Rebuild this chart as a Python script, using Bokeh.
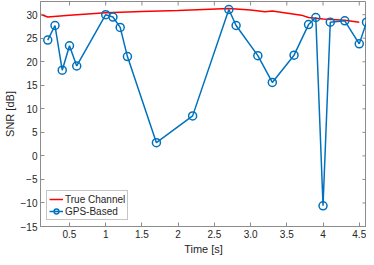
import math
from bokeh.plotting import figure
from bokeh.models import Range1d, FixedTicker, Legend, LegendItem
from bokeh.embed import file_html
from bokeh.resources import INLINE

# True channel SNR
true_t = [0.1, 0.2, 0.5, 1.0, 1.5, 2.0, 2.7, 3.0, 3.2, 3.3, 3.7, 3.8, 4.0, 4.3, 4.5]
true_snr = [30.1, 29.5, 29.9, 30.4, 30.7, 30.9, 31.3, 31.0, 30.6, 30.8, 29.9, 29.4, 29.1, 28.8, 28.4]

# GPS-based SNR
gps_t = [0.2, 0.3, 0.4, 0.5, 0.6, 1.0, 1.1, 1.2, 1.3, 1.7, 2.2, 2.7, 2.8, 3.1, 3.3, 3.6,
         3.8, 3.9, 4.0, 4.1, 4.3, 4.5, 4.6]
gps_snr = [24.6, 27.7, 18.2, 23.4, 19.1, 30.0, 29.5, 27.3, 21.1, 2.8, 8.5, 31.1, 27.7, 21.3,
           15.6, 21.4, 27.9, 29.4, -10.6, 28.4, 28.7, 23.8, 28.4]

x_ticks = [0.5, 1.0, 1.5, 2.0, 2.5, 3.0, 3.5, 4.0, 4.5]
x_tick_labels = ["0.5", "1", "1.5", "2", "2.5", "3.0", "3.5", "4", "4.5"]
y_ticks = [-15, -10, -5, 0, 5, 10, 15, 20, 25, 30]

X_MIN, X_MAX = 0.1, 4.6
Y_MIN, Y_MAX = -15, 32.8

FONT = "Liberation Sans"
AX = "#8c8c8c"
TXT = "#262626"

p = figure(width=366, height=257, output_backend="svg", toolbar_location=None,
           x_range=Range1d(X_MIN, X_MAX), y_range=Range1d(Y_MIN, Y_MAX),
           min_border_left=0, min_border_right=0, min_border_top=1, min_border_bottom=0)
p.xgrid.visible = False
p.ygrid.visible = False
p.outline_line_color = AX
p.background_fill_color = "white"
p.border_fill_color = "white"

def style(ax):
    ax.axis_line_color = AX
    ax.major_tick_line_color = AX
    ax.minor_tick_line_color = None
    ax.major_tick_in = 4
    ax.major_tick_out = 0
    ax.major_label_text_font = FONT
    ax.major_label_text_font_size = "10px"
    ax.major_label_text_color = TXT
    ax.major_label_standoff = 3
    ax.axis_label_text_font = FONT
    ax.axis_label_text_font_size = "11px"
    ax.axis_label_text_font_style = "normal"
    ax.axis_label_text_color = TXT
    ax.axis_label_standoff = 2

xa = p.xaxis[0]
ya = p.yaxis[0]
xa.ticker = FixedTicker(ticks=x_ticks)
ya.ticker = FixedTicker(ticks=y_ticks)
xa.major_label_overrides = {t: l for t, l in zip(x_ticks, x_tick_labels)}
xa.axis_label = "Time [s]"
ya.axis_label = "SNR [dB]"
style(xa)
style(ya)

# inner tick marks on top and right edges of the box (clipped to frame)
p.scatter(x_ticks, [Y_MAX] * len(x_ticks), marker="dash", size=8, angle=math.pi / 2,
          line_color=AX, line_width=1)
p.scatter([X_MAX] * len(y_ticks), y_ticks, marker="dash", size=8,
          line_color=AX, line_width=1)

r_true = p.line(true_t, true_snr, line_color="#FF0000", line_width=1.5)
r_gps = p.line(gps_t, gps_snr, line_color="#0072BD", line_width=1.5)
r_gps_m = p.scatter(gps_t, gps_snr, marker="circle", size=8, line_color="#0072BD",
                    line_width=1.5, fill_alpha=0)

legend = Legend(items=[LegendItem(label="True Channel", renderers=[r_true]),
                       LegendItem(label="GPS-Based", renderers=[r_gps, r_gps_m])],
                location="bottom_left")
legend.label_text_font = FONT
legend.label_text_font_size = "10px"
legend.label_text_color = TXT
legend.border_line_color = AX
legend.background_fill_alpha = 1
legend.padding = 2
legend.spacing = 0
legend.margin = 6
legend.glyph_width = 14
legend.glyph_height = 12
legend.label_standoff = 2
legend.label_height = 12
p.add_layout(legend)

open("out.html", "w").write(file_html(p, INLINE))
